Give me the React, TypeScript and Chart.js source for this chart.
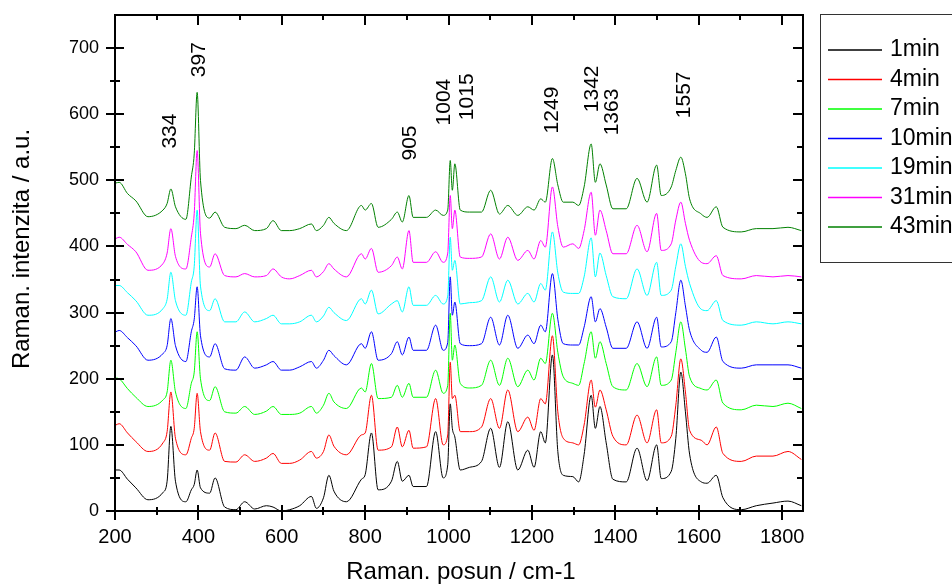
import React, { useEffect, useRef } from "react";
import { Chart, registerables } from "chart.js";

Chart.register(...registerables);

// Raman shift (cm-1) sample positions shared by all spectra
const wavenumbers = [
  202, 210, 230, 250, 279, 315, 325, 334, 345, 370, 383, 390, 397, 405, 427, 440, 463, 490, 511, 535,
  563, 579, 599, 619, 643, 671, 683, 700, 713, 725, 755, 791, 800, 815, 831, 863, 877, 889, 905, 915,
  947, 969, 987, 998, 1004, 1009, 1015, 1028, 1050, 1079, 1101, 1122, 1142, 1166, 1190, 1205, 1221, 1232, 1249, 1262,
  1275, 1298, 1312, 1325, 1342, 1352, 1363, 1378, 1394, 1426, 1452, 1476, 1499, 1510, 1534, 1545, 1557, 1568, 1578, 1606,
  1620, 1642, 1658, 1702, 1738, 1778, 1814, 1846,
];

const min1 = [
  62, 62, 48, 35, 17, 28, 45, 128, 45, 14, 32, 40, 62, 35, 27, 50, 6, 2, 14, 3,
  8, 6, 0, 2, 8, 22, 4, 20, 54, 30, 14, 48, 55, 118, 32, 45, 75, 45, 54, 37,
  37, 120, 50, 70, 162, 125, 112, 62, 66, 75, 125, 66, 135, 62, 92, 66, 120, 103, 236, 90,
  54, 52, 44, 85, 175, 125, 158, 103, 48, 44, 95, 46, 100, 49, 60, 110, 210, 150, 86, 44,
  42, 54, 20, 2, 8, 12, 15, 8,
];

const min4 = [
  130, 132, 118, 105, 90, 103, 120, 180, 110, 85, 110, 125, 178, 120, 92, 118, 75, 74, 85, 75,
  80, 87, 72, 72, 77, 90, 80, 90, 115, 98, 85, 115, 118, 175, 92, 97, 127, 97, 122, 95,
  97, 170, 100, 115, 225, 170, 175, 120, 120, 127, 170, 125, 183, 120, 142, 122, 170, 162, 265, 150,
  110, 103, 100, 130, 198, 157, 183, 153, 113, 100, 145, 103, 153, 103, 113, 160, 230, 180, 122, 107,
  100, 127, 87, 75, 83, 83, 90, 78,
];

const min7 = [
  201, 200, 185, 172, 158, 168, 180, 228, 180, 155, 193, 210, 271, 200, 167, 188, 150, 148, 158, 146,
  151, 158, 146, 146, 148, 158, 148, 160, 178, 165, 155, 186, 180, 223, 170, 172, 190, 172, 193, 172,
  172, 213, 178, 190, 299, 228, 251, 193, 186, 190, 228, 190, 231, 188, 213, 198, 231, 223, 299, 240,
  203, 193, 190, 223, 271, 231, 256, 223, 188, 183, 223, 188, 233, 190, 198, 240, 286, 245, 203, 185,
  183, 198, 163, 153, 160, 158, 163, 155,
];

const min10 = [
  271, 273, 262, 250, 228, 238, 250, 291, 250, 226, 271, 290, 339, 265, 233, 253, 215, 213, 233, 216,
  221, 226, 213, 213, 218, 226, 216, 228, 243, 235, 221, 253, 246, 271, 228, 238, 256, 236, 263, 243,
  243, 281, 243, 255, 354, 296, 316, 253, 250, 253, 293, 251, 296, 246, 266, 253, 281, 271, 359, 290,
  253, 251, 251, 278, 324, 286, 306, 278, 246, 246, 286, 246, 293, 248, 256, 300, 349, 310, 273, 243,
  240, 263, 226, 216, 221, 221, 221, 216,
];

const min19 = [
  341, 341, 330, 318, 296, 306, 320, 361, 318, 296, 346, 370, 455, 340, 303, 321, 286, 286, 301, 286,
  291, 296, 283, 283, 286, 296, 286, 295, 308, 300, 288, 321, 313, 334, 298, 313, 318, 301, 339, 311,
  311, 326, 313, 325, 414, 364, 379, 313, 315, 318, 354, 316, 349, 313, 329, 316, 344, 334, 422, 360,
  331, 329, 329, 354, 413, 354, 390, 356, 324, 321, 366, 326, 376, 326, 334, 370, 404, 370, 344, 305,
  303, 318, 288, 281, 286, 283, 286, 283,
];

const min31 = [
  412, 414, 403, 392, 364, 374, 390, 427, 385, 366, 414, 450, 545, 420, 369, 389, 356, 354, 359, 354,
  356, 366, 354, 351, 356, 364, 354, 362, 374, 366, 354, 389, 381, 397, 361, 371, 384, 366, 424, 376,
  376, 392, 376, 390, 477, 427, 455, 384, 382, 384, 419, 381, 414, 379, 394, 381, 409, 399, 490, 430,
  399, 404, 397, 424, 482, 417, 455, 424, 389, 389, 432, 392, 450, 394, 404, 440, 467, 435, 409, 376,
  374, 386, 356, 351, 356, 354, 356, 354,
];

const min43 = [
  496, 497, 480, 469, 445, 455, 465, 487, 460, 441, 505, 540, 633, 500, 443, 452, 429, 427, 432, 424,
  427, 439, 424, 424, 427, 434, 424, 432, 444, 435, 424, 462, 455, 465, 429, 441, 452, 437, 477, 444,
  444, 455, 447, 455, 530, 485, 525, 455, 452, 452, 485, 449, 462, 447, 460, 455, 472, 467, 533, 493,
  467, 467, 462, 490, 555, 497, 525, 493, 457, 457, 503, 467, 523, 477, 490, 515, 535, 510, 472, 449,
  444, 460, 429, 422, 427, 427, 429, 424,
];

const seriesLabels = ["1min", "4min", "7min", "10min", "19min", "31min", "43min"];
const seriesColors = ["#000000", "#ff0000", "#00ff00", "#0000ff", "#00ffff", "#ff00ff", "#008000"];
const seriesValues = [min1, min4, min7, min10, min19, min31, min43];

const xTickLabels = [200, 400, 600, 800, 1000, 1200, 1400, 1600, 1800];
const xMinorTicks = [300, 500, 700, 900, 1100, 1300, 1500, 1700];
const yTickLabels = [0, 100, 200, 300, 400, 500, 600, 700];
const yMinorTicks = [50, 150, 250, 350, 450, 550, 650];

const peakLabels = ["334", "397", "905", "1004", "1015", "1249", "1342", "1363", "1557"];
const peakLabelX = [333, 403, 907, 990, 1045, 1249, 1345, 1393, 1566];
const peakLabelY = [548, 656, 530, 583, 591, 571, 603, 568, 594];

const xTitle = "Raman. posun / cm-1";
const yTitle = "Raman. intenzita / a.u.";

const FONT = "'Liberation Sans', Arial, Helvetica, sans-serif";

const decorPlugin = {
  id: "decor",
  afterDraw(chart: any) {
    const ctx = chart.ctx as CanvasRenderingContext2D;
    const { left, right, top, bottom } = chart.chartArea;
    const xs = chart.scales.x;
    const ys = chart.scales.y;
    ctx.save();
    ctx.strokeStyle = "#000";
    ctx.fillStyle = "#000";
    ctx.lineWidth = 2;
    ctx.strokeRect(left, top, right - left, bottom - top);

    const line = (x1: number, y1: number, x2: number, y2: number) => {
      ctx.beginPath();
      ctx.moveTo(x1, y1);
      ctx.lineTo(x2, y2);
      ctx.stroke();
    };

    // x ticks
    xTickLabels.forEach((v) => {
      const px = Math.round(xs.getPixelForValue(v));
      line(px, bottom - 6, px, bottom + 9);
      line(px, top, px, top + 10);
    });
    xMinorTicks.forEach((v) => {
      const px = Math.round(xs.getPixelForValue(v));
      line(px, bottom - 4, px, bottom + 4);
      line(px, top, px, top + 5);
    });
    // y ticks
    yTickLabels.forEach((v) => {
      const py = Math.round(ys.getPixelForValue(v));
      line(left - 9, py, left + 9, py);
      line(right - 10, py, right, py);
    });
    yMinorTicks.forEach((v) => {
      const py = Math.round(ys.getPixelForValue(v));
      line(left - 5, py, left + 5, py);
      line(right - 6, py, right, py);
    });

    // tick labels
    ctx.font = `20px ${FONT}`;
    ctx.textAlign = "center";
    ctx.textBaseline = "middle";
    xTickLabels.forEach((v) => {
      ctx.fillText(String(v), xs.getPixelForValue(v), bottom + 26);
    });
    ctx.font = `18px ${FONT}`;
    ctx.textAlign = "right";
    yTickLabels.forEach((v) => {
      ctx.fillText(String(v), left - 16, ys.getPixelForValue(v));
    });

    // axis titles
    ctx.font = `24px ${FONT}`;
    ctx.textAlign = "center";
    ctx.fillText(xTitle, 461, 572);
    ctx.save();
    ctx.translate(22, 249);
    ctx.rotate(-Math.PI / 2);
    ctx.fillText(yTitle, 0, 0);
    ctx.restore();

    // peak annotations
    ctx.font = `21px ${FONT}`;
    ctx.textAlign = "left";
    peakLabels.forEach((t, i) => {
      ctx.save();
      ctx.translate(xs.getPixelForValue(peakLabelX[i]), ys.getPixelForValue(peakLabelY[i]));
      ctx.rotate(-Math.PI / 2);
      ctx.fillText(t, 0, 0);
      ctx.restore();
    });

    // legend box
    ctx.lineWidth = 1;
    ctx.strokeStyle = "#333";
    ctx.strokeRect(820.5, 14.5, 200, 248);
    ctx.font = `23px ${FONT}`;
    ctx.textAlign = "left";
    seriesLabels.forEach((lab, i) => {
      const yy = 50 + i * 29.5;
      ctx.strokeStyle = seriesColors[i];
      ctx.lineWidth = 1.5;
      line(828, yy, 882, yy);
      ctx.fillStyle = "#000";
      ctx.fillText(lab, 890, yy);
    });
    ctx.restore();
  },
};

export default function App() {
  const canvasRef = useRef<HTMLCanvasElement | null>(null);

  useEffect(() => {
    if (!canvasRef.current) return;
    const datasets = seriesValues.map((vals, i) => ({
      label: seriesLabels[i],
      data: wavenumbers.map((w, j) => ({ x: w, y: vals[j] })),
      borderColor: seriesColors[i],
      backgroundColor: seriesColors[i],
      borderWidth: 1,
      pointRadius: 0,
      fill: false,
      cubicInterpolationMode: "monotone" as const,
    }));
    const chart = new Chart(canvasRef.current, {
      type: "line",
      data: { datasets },
      options: {
        animation: false,
        responsive: false,
        devicePixelRatio: 1,
        layout: { padding: { left: 115, right: 149, top: 15, bottom: 73 } },
        plugins: { legend: { display: false }, tooltip: { enabled: false } },
        events: [],
        scales: {
          x: { type: "linear", min: 200, max: 1850, display: false },
          y: { type: "linear", min: 0, max: 750, display: false },
        },
      },
      plugins: [decorPlugin],
    });
    return () => chart.destroy();
  }, []);

  return (
    <div style={{ position: "fixed", left: 0, top: 0, width: 952, height: 584, background: "#fff", overflow: "hidden" }}>
      <canvas ref={canvasRef} width={952} height={584} style={{ display: "block" }} />
    </div>
  );
}
